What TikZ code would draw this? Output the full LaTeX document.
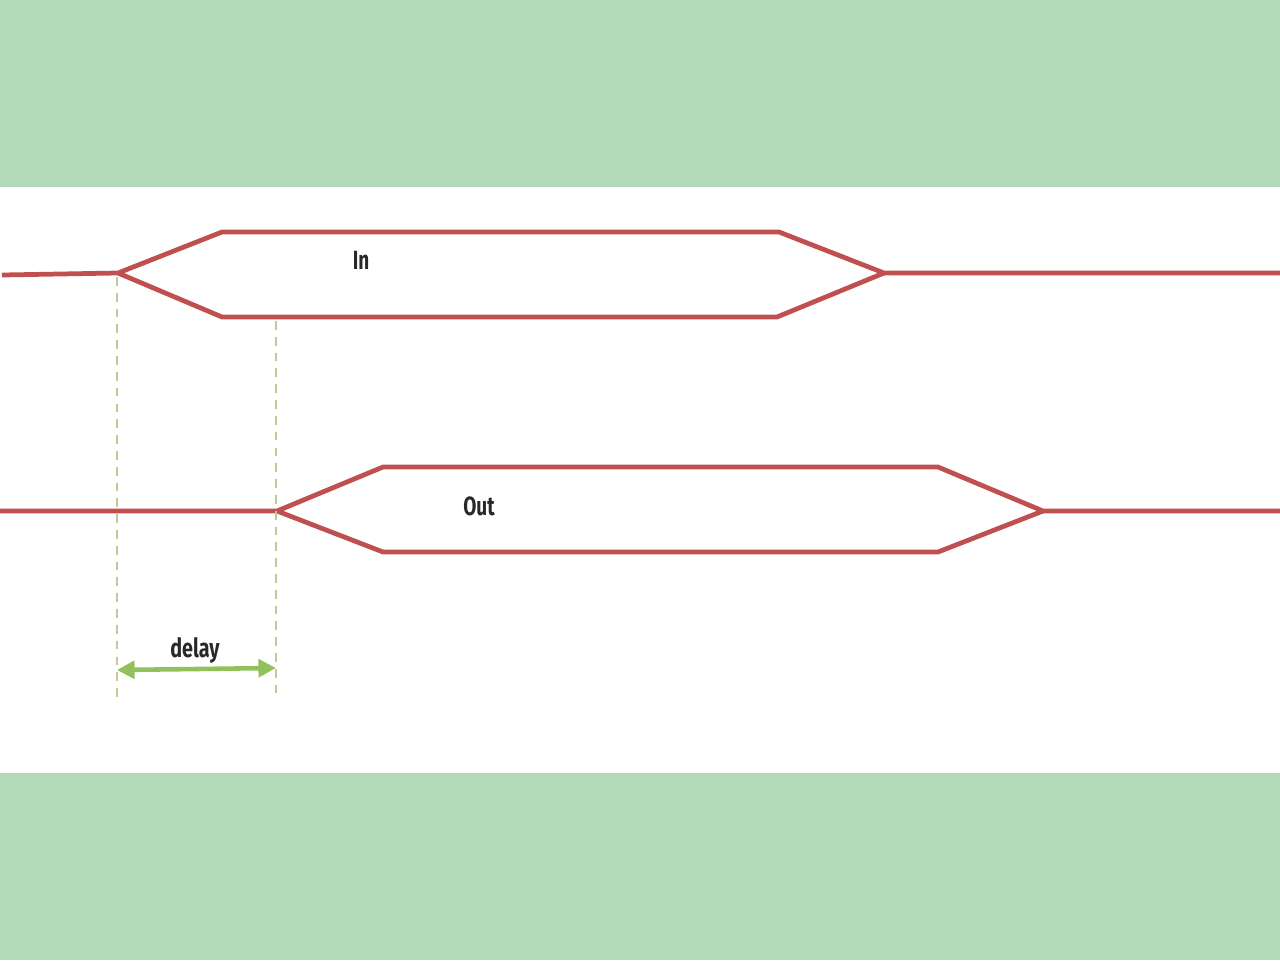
\documentclass[tikz,border=0pt]{standalone}
\usepackage{fontspec}
\setmainfont{Fira Sans}
\usetikzlibrary{arrows.meta}
\definecolor{band}{RGB}{178,217,184}
\definecolor{sig}{RGB}{192,80,80}
\definecolor{guide}{RGB}{196,200,150}
\definecolor{arr}{RGB}{146,192,90}
\definecolor{txt}{RGB}{40,40,40}
\tikzset{
  signal/.style={draw=sig, line width=2.7pt, line join=miter},
  guideline/.style={draw=guide, line width=0.8pt, dash pattern=on 5pt off 4pt},
  delayarrow/.style={draw=arr, line width=2.6pt, {Triangle[length=10pt,width=10pt]}-{Triangle[length=10pt,width=10pt]}},
  lbl/.style={text=txt, font=\bfseries\fontsize{15}{18}\selectfont, inner sep=0pt}
}
\begin{document}
\begin{tikzpicture}[x=0.02cm,y=-0.02cm]
\useasboundingbox (0,0) rectangle (1280,960);
\fill[band] (0,0) rectangle (1280,187);
\fill[band] (0,773) rectangle (1280,960);
% In signal
\coordinate (inL) at (2,275);
\coordinate (inA) at (118,273);
\coordinate (inTU) at (222,232);
\coordinate (inTD) at (222,317);
\coordinate (inBU) at (779,232);
\coordinate (inBD) at (777,317);
\coordinate (inB) at (884,273);
\coordinate (inR) at (1280,273);
\draw[signal] (inL) -- (inA) -- (inTU) -- (inBU) -- (inB) -- (inR);
\draw[signal] (inA) -- (inTD) -- (inBD) -- (inB);
% Out signal
\coordinate (outL) at (0,511);
\coordinate (outA) at (277,511);
\coordinate (outTU) at (383,467);
\coordinate (outTD) at (383,552);
\coordinate (outBU) at (938,467);
\coordinate (outBD) at (938,552);
\coordinate (outB) at (1043,511);
\coordinate (outR) at (1280,511);
\draw[signal] (outL) -- (outA) -- (outTU) -- (outBU) -- (outB) -- (outR);
\draw[signal] (outA) -- (outTD) -- (outBD) -- (outB);
% guides
\coordinate (g1t) at (117,277);
\coordinate (g1b) at (117,703);
\coordinate (g2t) at (276,321);
\coordinate (g2b) at (276,700);
\draw[guideline] (g1t) -- (g1b);
\draw[guideline] (g2t) -- (g2b);
% delay arrow
\coordinate (d1) at (117,670);
\coordinate (d2) at (276,668);
\draw[delayarrow] (d1) -- (d2);
% labels
\node[lbl] (inlbl) at (361,260) {\scalebox{0.72}[1]{In}};
\node[lbl] (outlbl) at (479,506) {\scalebox{0.72}[1]{Out}};
\node[lbl] (delaylbl) at (195,650) {\scalebox{0.75}[1]{delay}};
\end{tikzpicture}
\end{document}
